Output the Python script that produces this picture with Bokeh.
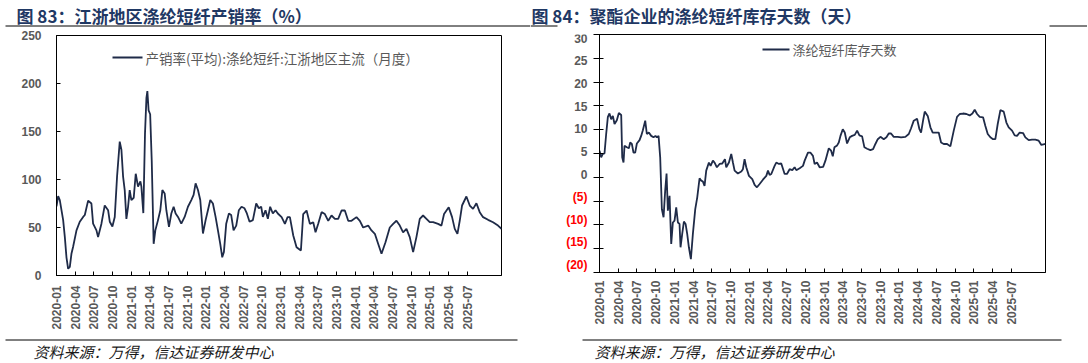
import math
from bokeh.plotting import figure
from bokeh.layouts import row, column
from bokeh.models import Range1d, FixedTicker, BoxAnnotation, ColumnDataSource, Label
from bokeh.core.properties import value
from bokeh.embed import file_html
from bokeh.resources import INLINE

# ---------------- data (x = months since 2020-01-01) ----------------
tick_months = [0, 3, 6, 9, 12, 15, 18, 21, 24, 27, 30, 33, 36, 39, 42, 45, 48, 51, 54, 57, 60, 63, 66]
tick_labels = ["2020-01", "2020-04", "2020-07", "2020-10", "2021-01", "2021-04", "2021-07", "2021-10",
               "2022-01", "2022-04", "2022-07", "2022-10", "2023-01", "2023-04", "2023-07", "2023-10",
               "2024-01", "2024-04", "2024-07", "2024-10", "2025-01", "2025-04", "2025-07"]

left_title = "图 83：江浙地区涤纶短纤产销率（%）"
left_series = "产销率(平均):涤纶短纤:江浙地区主流（月度）"
left_y_ticks = [0, 50, 100, 150, 200, 250]
left_month = [0.00, 0.27, 0.53, 1.07, 1.34, 1.60, 1.87, 2.14, 2.41, 2.67, 3.21, 3.74, 4.28, 4.55, 5.08,
              5.61, 5.88, 6.42, 6.68, 7.22, 7.75, 8.29, 8.56, 8.98, 9.36, 9.73, 10.16, 10.43, 10.70, 10.96,
              11.23, 11.50, 11.76, 12.03, 12.41, 12.73, 13.10, 13.48, 13.64, 13.95, 14.05, 14.22, 14.45,
              14.60, 14.80, 15.05, 15.30, 15.61, 15.88, 16.31, 16.68, 17.01, 17.38, 17.65, 18.07, 18.45,
              18.82, 19.14, 19.52, 20.05, 20.59, 21.12, 21.66, 22.03, 22.35, 22.73, 23.10, 23.53, 23.96,
              24.33, 24.71, 25.13, 25.56, 25.94, 26.31, 26.63, 26.90, 27.27, 27.70, 28.07, 28.45, 28.88,
              29.30, 29.73, 30.21, 30.59, 31.02, 31.55, 32.09, 32.51, 32.89, 33.16, 33.58, 33.96, 34.33,
              34.76, 35.19, 35.56,
              36.17, 36.70, 37.13, 37.50, 38.04, 38.57, 39.27, 39.64, 40.18, 40.71, 41.25, 41.62, 42.05,
              42.59, 43.12, 43.66, 44.19, 44.73, 45.26, 45.80, 46.33, 46.87, 47.40, 48.20, 48.74, 49.27,
              50.08, 50.61, 51.15, 51.68, 52.22, 52.86, 53.55, 54.09, 54.62, 55.16, 55.69, 56.23, 56.76,
              57.30, 57.83, 58.37, 58.90, 59.44, 59.97, 60.51, 61.31, 61.85, 62.27, 63.02, 63.56, 63.99,
              64.42, 64.79, 65.16, 65.86, 66.40, 66.93, 67.47, 68.00, 68.54, 69.34, 70.14, 70.94, 71.50]
left_rate = [72, 82.7, 78.6, 57.7, 40, 19, 7, 9, 23, 30, 47, 56, 61, 63, 78,
             75, 54, 47, 40, 54, 73, 68, 56, 51, 61, 103, 139.5, 131, 103, 89,
             59, 71.6, 89, 78.6, 81, 106, 92.5, 98, 92.5, 65, 95, 148, 185,
             192, 172, 168, 120, 33, 47, 57.7, 68, 89, 85.5, 68, 50.7, 64.6,
             71.6, 64.6, 61, 54, 61, 71.6, 78.6, 84, 96, 89, 78.6, 43.7, 57.7,
             68, 78.6, 75, 61, 47, 33, 19, 24.6, 54, 64.6, 63, 47, 52,
             68, 71.6, 70, 64.6, 56, 57.7, 75, 70, 71.6, 61, 68, 59, 71.6,
             64.6, 68, 64.6,
             60.8, 53.8, 60.8, 60.8, 41.7, 29.5, 26, 64, 67.7, 53.8, 55.5, 45, 53.8,
             66, 64, 57, 62.5, 59, 59, 67.7, 67.7, 57, 57, 60.8, 57, 50,
             52, 46.9, 43.4, 33, 22.6, 34.7, 50, 53.8, 57, 52, 45, 48.6, 40,
             24.3, 40, 59, 62.5, 59, 55.5, 55.5, 53.8, 52, 64, 71, 60.8, 48.6,
             43.4, 57, 72.9, 82.3, 72.9, 69.4, 75.3, 66, 60.8, 58, 55.5, 52, 48.6]

right_title = "图 84：聚酯企业的涤纶短纤库存天数（天）"
right_series = "涤纶短纤库存天数"
right_y_ticks = [-20, -15, -10, -5, 0, 5, 10, 15, 20, 25, 30]
right_y_labels = ["(20)", "(15)", "(10)", "(5)", "0", "5", "10", "15", "20", "25", "30"]
right_month = [0.00, 0.27, 0.53, 0.80, 1.07, 1.34, 1.60, 1.87, 2.14, 2.41, 2.78, 3.10, 3.48, 3.64, 3.85,
               4.01, 4.39, 4.71, 4.92, 5.19, 5.45, 5.72, 5.99, 6.42, 6.68, 6.95, 7.33, 7.59, 7.91, 8.29,
               8.66, 8.98, 9.20, 9.47, 9.73, 10.00, 10.27, 10.53, 10.75, 10.96, 11.23, 11.50, 11.76, 12.03,
               12.30, 12.57, 12.83, 12.99, 13.26, 13.53, 13.80, 14.06, 14.33, 14.65, 14.97, 15.35, 15.67,
               16.04, 16.31, 16.58, 16.84, 17.11, 17.54, 17.81, 18.18, 18.45, 18.82, 19.25, 19.68, 20.11,
               20.32, 20.75, 21.12, 21.39, 21.66, 22.19, 22.73, 22.99, 23.26, 23.53, 23.96, 24.49, 24.87,
               25.24, 25.67, 26.20, 26.74, 27.01, 27.27, 27.54, 28.07, 28.34, 28.77, 29.14, 29.68, 30.05,
               30.48, 30.91, 31.28, 31.55, 32.09, 32.62, 32.89, 33.42, 33.80, 34.22, 34.49, 34.87, 35.29,
               35.85, 36.22, 36.76, 37.13, 37.40, 37.66, 38.09, 38.36, 38.63, 39.00, 39.32, 39.69, 40.12,
               40.49, 40.92, 41.30, 41.67, 42.10, 42.47, 42.90, 43.43, 43.86, 44.23, 44.61, 45.04, 45.57,
               46.00, 46.37, 46.74, 47.17, 47.81, 48.35, 49.04, 49.58, 49.95, 50.38, 50.91, 51.29, 51.55,
               51.87, 52.14, 52.62, 53.05, 53.42, 53.85, 54.38, 54.76, 55.19, 55.72, 56.25, 56.79, 57.32,
               57.75, 58.28, 58.82, 59.35, 59.78, 60.15, 60.53, 60.95, 61.49, 61.86, 62.24, 62.66, 63.09,
               63.46, 63.84, 64.27, 64.80, 65.23, 65.60, 66.14, 66.56, 66.94, 67.36, 67.90, 68.27, 68.81,
               69.34, 69.88, 70.41, 70.84, 71.50]
right_days = [5.6, 4.2, 4.9, 5, 9.1, 12.7, 13.4, 12.2, 12.9, 11.2, 12, 13.5, 13.1, 4.2, 3.1,
              6.6, 6.3, 6.1, 7.3, 7, 5.2, 5.2, 7.1, 7.8, 8.7, 9.9, 11.9, 9.1, 9.4, 8.7,
              8.4, 8.7, 8.4, 8.7, 4.2, -6.7, -8.4, -2.8, 0.8, -7, -3.9, -14, -9.5, -9.1,
              -6.3, -9.5, -9.8, -14.7, -11.9, -9.3, -9.8, -11.9, -14.7, -17.2, -11.9, -6.7, -4.2,
              -0.2, -0.7, -0.9, -1.8, 1.4, 3.1, 2.4, 3.5, 3.1, 2.1, 2.8, 2.9, 3.8,
              2.1, 3.1, 4.9, 3.1, 1.4, 0.8, 1.2, 1.7, 3.8, 2.1, 0.3, -0.4, -1.6,
              -2.1, -1.4, -0.5, 0.3, 1.4, 0.5, 0.7, 2.4, 3.1, 2.8, 2.9, 0.7, 0.7,
              1.7, 1.5, 2.1, 1.5, 1.9, 2.4, 3.5, 5.2, 5.2, 4.5, 2.8, 3.1, 2.1,
              2.2, 3.5, 6.1, 5.6, 4.4, 6.3, 6.7, 7.3, 8.7, 10.1, 9.4, 7.1, 8.4,
              8.7, 8.9, 9.8, 8.8, 8.6, 6.3, 6.0, 5.7, 5.9, 7, 8, 8.5, 8,
              8.4, 9.2, 9.2, 8.5, 8.5, 8.4, 8.5, 9.1, 10.3, 11.9, 12.3, 10.1, 9.4,
              11.9, 13.8, 12.9, 10.5, 9.4, 9.4, 9.4, 7.3, 7, 7, 6.5, 9.8, 12.7,
              13.3, 13.4, 13.3, 13, 13.4, 14.2, 13.3, 12.7, 12.6, 10.8, 9.1, 8.4, 8,
              8, 11.2, 14.1, 13.8, 11.5, 10.5, 9.8, 8.8, 8.7, 9.4, 9.3, 8.4, 7.8,
              7.9, 7.9, 7.7, 6.8, 7]

source_text = "资料来源：万得，信达证券研发中心"

# ---------------- styles ----------------
LINE = "#1f2b48"
GRAY = "#595959"
NAVY = "#1f3864"
CJK = "Noto Sans CJK SC"
NUM = "Liberation Sans"
TOP_H = 30       # title strip height
CH_H = 303       # chart strip height
SRC_H = 29       # source strip height
LW, RW = 530, 557


def blank(w, h):
    p = figure(width=w, height=h, x_range=Range1d(0, w), y_range=Range1d(h, 0),
               x_axis_type=None, y_axis_type=None, output_backend="svg",
               toolbar_location=None, min_border=0)
    p.outline_line_color = None
    p.background_fill_color = "white"
    p.border_fill_color = "white"
    return p


def put_text(p, x, y, s, size, color, font=CJK, style="normal", align="left"):
    p.text(x=[x], y=[y], text=[s], text_font=value(font), text_font_size=size,
           text_color=color, text_font_style=style, text_align=align, text_baseline="middle")


def put_rule(p, x0, x1, y):
    p.segment(x0=[x0], y0=[y], x1=[x1], y1=[y], line_color="black", line_width=1)


def legend_line(p, x0, x1, y):
    p.add_layout(BoxAnnotation(left=x0, right=x1, top=y - 1, bottom=y + 1,
                               left_units="canvas", right_units="canvas",
                               top_units="canvas", bottom_units="canvas",
                               fill_color=LINE, fill_alpha=1.0, line_color=None))


def legend_text(p, x, y, s, size):
    p.add_layout(Label(x=x, y=y, x_units="canvas", y_units="canvas", text=s,
                       text_font=CJK, text_font_size=size, text_color=GRAY,
                       text_align="left", text_baseline="middle"))


def chart(width, bl, br, bt, bb, yr, y_ticks, x_standoff, y_standoff, y_tick_out):
    p = figure(width=width, height=CH_H, x_range=Range1d(0, 71.5), y_range=Range1d(*yr),
               output_backend="svg", toolbar_location=None,
               min_border_left=bl, min_border_right=br, min_border_top=bt, min_border_bottom=bb)
    p.xgrid.grid_line_color = None
    p.ygrid.grid_line_color = None
    p.outline_line_color = "black"
    p.outline_line_alpha = 1.0
    p.outline_line_width = 1
    p.background_fill_color = "white"
    p.border_fill_color = "white"
    for ax in (p.xaxis[0], p.yaxis[0]):
        ax.axis_line_color = "black"
        ax.axis_line_width = 1
        ax.major_tick_line_color = "black"
        ax.minor_tick_line_color = None
        ax.major_label_text_font = NUM
        ax.major_label_text_font_style = "bold"
        ax.major_label_text_font_size = "12px"
        ax.major_label_text_color = GRAY
    xa = p.xaxis[0]
    xa.ticker = FixedTicker(ticks=tick_months)
    xa.major_label_overrides = {m: lab for m, lab in zip(tick_months, tick_labels)}
    xa.major_label_orientation = math.pi / 2
    xa.major_tick_in = 4
    xa.major_tick_out = 0
    xa.major_label_standoff = x_standoff
    ya = p.yaxis[0]
    ya.ticker = FixedTicker(ticks=y_ticks)
    ya.major_tick_in = 4
    ya.major_tick_out = y_tick_out
    ya.major_label_standoff = y_standoff
    return p


# ---------------- left panel ----------------
t1 = blank(LW, TOP_H)
put_text(t1, 16, 15, left_title, "17px", NAVY, style="bold")
put_rule(t1, 5, LW, 25.5)

p1 = chart(LW, 56, 29, 5, 58, (0, 250), left_y_ticks, 10, 15, 0)
p1.line(left_month, left_rate, line_color=LINE, line_width=1.8)
legend_line(p1, 112, 142, 27)
legend_text(p1, 145, 27, left_series, "13.5px")

s1 = blank(LW, SRC_H)
put_rule(s1, 5, 517, 6.5)
put_text(s1, 33, 18, source_text, "15px", "#1a1a1a", style="italic")

left_panel = column(t1, row(p1), s1)

# ---------------- right panel ----------------
t2 = blank(RW, TOP_H)
put_text(t2, 1, 15, right_title, "17px", NAVY, style="bold")
put_rule(t2, 0, 27, 25.5)
put_rule(t2, 519, RW, 25.5)

LAB_W = 59
p2 = chart(RW - LAB_W, 10, RW - LAB_W - 10 - 446, 4, 61, (-20, 30), right_y_ticks, 8, 0, 6)
p2.yaxis[0].major_label_overrides = {t: "" for t in right_y_ticks}
p2.line(right_month, right_days, line_color=LINE, line_width=1.8)
legend_line(p2, 173, 200, 19)
legend_text(p2, 203, 19, right_series, "13px")

# tick-label strip sharing the chart's vertical scale (frame padded 4px above, 8px below)
px_per_unit = 238 / 50.0
lab = figure(width=LAB_W, height=CH_H, x_range=Range1d(0, LAB_W),
             y_range=Range1d(-20 - 8 / px_per_unit, 30 + 4 / px_per_unit),
             x_axis_type=None, y_axis_type=None, output_backend="svg", toolbar_location=None,
             min_border_left=0, min_border_right=0, min_border_top=0, min_border_bottom=CH_H - 250)
lab.outline_line_color = None
lab.background_fill_color = "white"
lab.border_fill_color = "white"
ysrc = ColumnDataSource(dict(y=right_y_ticks, text=right_y_labels,
                             color=["#ff0000" if t < 0 else GRAY for t in right_y_ticks]))
lab.text(x=57, y="y", text="text", source=ysrc, text_font=value(NUM), text_font_style="bold",
         text_font_size="12px", text_color="color", text_align="right", text_baseline="middle")

s2 = blank(RW, SRC_H)
put_rule(s2, 52, 531, 6.5)
put_text(s2, 64, 18, source_text, "15px", "#1a1a1a", style="italic")

right_panel = column(t2, row(lab, p2), s2)

layout = row(left_panel, right_panel)
open("out.html", "w").write(file_html(layout, INLINE))
